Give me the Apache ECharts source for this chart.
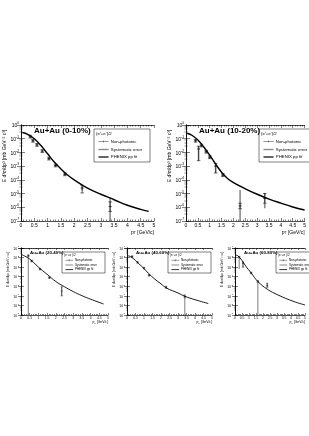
<!DOCTYPE html>
<html><head><meta charset="utf-8">
<script src="https://cdn.jsdelivr.net/npm/echarts@6/dist/echarts.min.js"></script>
<style>html,body{margin:0;padding:0;background:#fff}#c{width:309px;height:436px}</style>
</head><body><div id="c"></div>
<script>
// ---------- texts ----------
const panelTitles = ['Au+Au (0-10%)','Au+Au (10-20%)','Au+Au (20-40%)','Au+Au (40-60%)','Au+Au (60-80%)'];
const legendHeader = '(e\u207A+e\u207B)/2';
const legendLabels = ['Non-photonic','Systematic error','PHENIX pp fit'];
const xTickLabels = ['0','0.5','1','1.5','2','2.5','3','3.5','4','4.5','5'];
const yTitle = 'E d\u00B3\u03C3/dp\u00B3 [mb GeV\u207B\u00B2 c\u00B3]';
const xTitle = 'p{sub|T} [GeV/c]';

// ---------- axis ranges ----------
const xRange = [0, 5];
const yRangeTop = [1e-7, 1];
const yRangeBottom = [1e-8, 1e-1];

// ---------- 0-10% ----------
const fitPt_0010 = [0.05,0.25,0.5,0.75,1.0,1.25,1.5,1.75,2.0,2.5,3.0,3.5,4.0,4.5,4.8];
const fit_0010 = [0.282,0.209,0.1,0.0316,7.94e-3,2.0e-3,6.31e-4,2.24e-4,1.0e-4,2.51e-5,8.91e-6,3.55e-6,1.41e-6,7.08e-7,5.01e-7];
const pt_0010 = [0.35,0.45,0.6,0.8,1.05,1.3,1.65,2.3,3.35];
const y_0010 = [0.141,0.0708,0.0355,0.0126,3.55e-3,1.12e-3,2.51e-4,2.51e-5,1.12e-6];
const statLo_0010 = [0.112,0.0562,0.0282,0.01,2.82e-3,8.9e-4,2.0e-4,1.12e-5,5.0e-7];
const statHi_0010 = [0.178,0.0891,0.0447,0.0158,4.47e-3,1.41e-3,3.16e-4,3.98e-5,2.51e-6];
const sysLo_0010 = [0.112,0.0562,0.0282,0.01,2.82e-3,8.9e-4,2.0e-4,1.6e-5,1e-7];
const sysHi_0010 = [0.178,0.0891,0.0447,0.0158,4.47e-3,1.41e-3,3.16e-4,3.5e-5,5.0e-6];

// ---------- 10-20% ----------
const fitPt_1020 = [0.05,0.25,0.5,0.75,1.0,1.25,1.5,1.75,2.0,2.5,3.0,3.5,4.0,4.5,5.0];
const fit_1020 = [0.251,0.178,0.0794,0.0251,6.31e-3,1.41e-3,3.55e-4,1.26e-4,6.31e-5,2.24e-5,8.91e-6,3.98e-6,2.0e-6,1.05e-6,6.31e-7];
const pt_1020 = [0.4,0.53,0.65,0.85,1.0,1.25,1.55,2.28,3.32];
const y_1020 = [0.0708,0.0178,0.0316,0.0112,4.47e-3,1.0e-3,2.24e-4,1.26e-6,4.47e-6];
const statLo_1020 = [0.0562,2.51e-3,0.0251,8.9e-3,3.55e-3,3.16e-4,1.78e-4,7.94e-7,2.0e-6];
const statHi_1020 = [0.0891,0.0282,0.0398,0.0141,5.62e-3,1.58e-3,2.82e-4,2.0e-6,1.0e-5];
const sysLo_1020 = [0.0562,2.51e-3,0.0251,8.9e-3,3.55e-3,3.16e-4,1.78e-4,1e-7,8.5e-7];
const sysHi_1020 = [0.0891,0.0282,0.0398,0.0141,5.62e-3,1.58e-3,2.82e-4,1.82e-5,1.12e-5];

// ---------- 20-40% ----------
const fitPt_2040 = [0.05,0.5,1.0,1.5,2.0,2.5,3.0,3.5,4.0,4.75];
const fit_2040 = [0.02,7.08e-3,1.0e-3,1.78e-4,3.16e-5,8.91e-6,2.82e-6,1.05e-6,4.47e-7,1.41e-7];
const pt_2040 = [0.42,0.61,1.09,1.63,2.34];
const y_2040 = [0.0158,4.37e-3,6.31e-4,7.94e-5,3.16e-6];
const statLo_2040 = [0.0132,3.64e-3,5.26e-4,6.62e-5,1.0e-6];
const statHi_2040 = [0.019,5.24e-3,7.57e-4,9.53e-5,8.91e-6];
const sysLo_2040 = [1e-8,3.47e-3,5.0e-4,6.31e-5,1.0e-6];
const sysHi_2040 = [0.02,5.5e-3,7.94e-4,1.0e-4,8.91e-6];

// ---------- 40-60% ----------
const fitPt_4060 = [0.05,0.3,0.67,1.0,1.26,1.6,2.0,2.34,3.0,3.41,4.0,4.78];
const fit_4060 = [0.0158,0.01,2.51e-3,7.08e-4,2.29e-4,6.31e-5,1.78e-5,6.31e-6,2.0e-6,8.91e-7,3.98e-7,1.58e-7];
const pt_4060 = [0.3,0.62,1.0,1.3,2.3,3.4];
const y_4060 = [0.0126,3.16e-3,7.94e-4,1.41e-4,7.94e-6,8.91e-7];
const statLo_4060 = [0.0105,2.63e-3,6.62e-4,1.18e-4,6.31e-6,6.31e-7];
const statHi_4060 = [0.0151,3.79e-3,9.53e-4,1.69e-4,1.0e-5,1.26e-6];
const sysLo_4060 = [0.01,2.51e-3,6.31e-4,1.12e-4,6.0e-6,1e-8];
const sysHi_4060 = [0.0158,3.98e-3,1.0e-3,1.78e-4,1.05e-5,1.26e-6];

// ---------- 60-80% ----------
const fitPt_6080 = [0.05,0.19,0.5,0.77,1.15,1.63,2.3,3.06,4.21,5.0];
const fit_6080 = [0.0178,0.0158,5.01e-3,1.26e-3,2.51e-4,3.16e-5,5.01e-6,1.26e-6,2.51e-7,1.12e-7];
const pt_6080 = [0.3,0.57,1.15,1.63,2.3];
const y_6080 = [0.0112,2.51e-3,2.51e-4,3.16e-5,1.26e-5];
const statLo_6080 = [9.3e-3,1.0e-3,2.09e-4,2.63e-5,7.94e-6];
const statHi_6080 = [0.0134,3.55e-3,3.01e-4,3.79e-5,2.0e-5];
const sysLo_6080 = [6.31e-4,1.0e-3,2.0e-4,1e-8,7.5e-6];
const sysHi_6080 = [0.0141,3.55e-3,3.16e-4,3.98e-5,2.1e-5];

// ---------- build ----------
const FONT = '"Liberation Sans", Arial, sans-serif';
const panels = [
  {L:21, T:125, W:133, H:96, big:true, yr:yRangeTop, fx:fitPt_0010, fy:fit_0010, px:pt_0010, py:y_0010, sl:statLo_0010, sh:statHi_0010, yl:sysLo_0010, yh:sysHi_0010},
  {L:186, T:125, W:133, H:96, big:true, yr:yRangeTop, fx:fitPt_1020, fy:fit_1020, px:pt_1020, py:y_1020, sl:statLo_1020, sh:statHi_1020, yl:sysLo_1020, yh:sysHi_1020},
  {L:21, T:248, W:87, H:67, big:false, yr:yRangeBottom, fx:fitPt_2040, fy:fit_2040, px:pt_2040, py:y_2040, sl:statLo_2040, sh:statHi_2040, yl:sysLo_2040, yh:sysHi_2040},
  {L:127, T:248, W:85, H:67, big:false, yr:yRangeBottom, fx:fitPt_4060, fy:fit_4060, px:pt_4060, py:y_4060, sl:statLo_4060, sh:statHi_4060, yl:sysLo_4060, yh:sysHi_4060},
  {L:235, T:248, W:87, H:67, big:false, yr:yRangeBottom, fx:fitPt_6080, fy:fit_6080, px:pt_6080, py:y_6080, sl:statLo_6080, sh:statHi_6080, yl:sysLo_6080, yh:sysHi_6080}
];

function zip2(a,b){ return a.map((v,i)=>[v,b[i]]); }
function zip3(a,b,c){ return a.map((v,i)=>[v,b[i],c[i]]); }

function barRender(color, width, capHalf){
  return function(params, api){
    const x = api.value(0), lo = api.value(1), hi = api.value(2);
    const a = api.coord([x, lo]), b = api.coord([x, hi]);
    const ch = [{type:'line', shape:{x1:a[0],y1:a[1],x2:b[0],y2:b[1]}, style:{stroke:color, lineWidth:width}}];
    if (capHalf > 0) {
      ch.push({type:'line', shape:{x1:a[0]-capHalf,y1:a[1],x2:a[0]+capHalf,y2:a[1]}, style:{stroke:color, lineWidth:width}});
      ch.push({type:'line', shape:{x1:b[0]-capHalf,y1:b[1],x2:b[0]+capHalf,y2:b[1]}, style:{stroke:color, lineWidth:width}});
    }
    return {type:'group', children: ch};
  };
}

const grid=[], xAxis=[], yAxis=[], series=[], title=[], graphic=[];
panels.forEach((p,i)=>{
  const fs = p.big ? 5 : 3.4;
  const tickLen = p.big ? 3 : 2;
  grid.push({left:p.L, top:p.T, width:p.W, height:p.H, containLabel:false});
  const axLine = {show:true, lineStyle:{color:'#000', width:0.7}};
  const yMinor = {show:true, splitNumber:4, length:tickLen*0.55, lineStyle:{color:'#000', width:0.4}};
  xAxis.push({gridIndex:i, type:'value', min:xRange[0], max:xRange[1], interval:0.5, position:'bottom',
    axisLine:axLine, axisTick:{inside:true, length:tickLen, lineStyle:{color:'#000', width:0.5}},
    minorTick:{show:true, splitNumber:5, length:tickLen*0.5, lineStyle:{color:'#000', width:0.5}},
    splitLine:{show:false},
    axisLabel:{fontSize:fs, color:'#000', margin:p.big?2.5:2, fontFamily:FONT, formatter:v=>xTickLabels[Math.round(v/0.5)]},
    name:xTitle, nameLocation:'end', nameGap:0,
    nameTextStyle:{fontSize:fs, color:'#000', fontFamily:FONT, align:'right', verticalAlign:'top', padding:[p.big?9:6,0,0,0],
      rich:{sub:{fontSize:fs*0.7, verticalAlign:'bottom', fontFamily:FONT}}}
  });
  xAxis.push({gridIndex:i, type:'value', min:xRange[0], max:xRange[1], interval:0.5, position:'top',
    axisLine:axLine, axisTick:{inside:true, length:tickLen, lineStyle:{color:'#000', width:0.5}},
    minorTick:{show:true, splitNumber:5, length:tickLen*0.5, lineStyle:{color:'#000', width:0.5}},
    splitLine:{show:false}, axisLabel:{show:false}});
  yAxis.push({gridIndex:i, type:'log', logBase:10, min:p.yr[0], max:p.yr[1], position:'left',
    axisLine:axLine, axisTick:{inside:true, length:tickLen+1, lineStyle:{color:'#000', width:0.5}},
    minorTick:yMinor,
    splitLine:{show:false},
    axisLabel:{fontSize:fs, color:'#000', margin:2, fontFamily:FONT, lineHeight:fs*1.3,
      formatter:v=>'{b|10}{s|' + Math.round(Math.log10(v)) + '}',
      rich:{b:{fontSize:fs, fontFamily:FONT, color:'#000', lineHeight:fs*1.3, verticalAlign:'bottom'},
            s:{fontSize:fs*0.65, fontFamily:FONT, color:'#000', lineHeight:fs*1.3, verticalAlign:'top'}}},
    name:yTitle, nameLocation:'middle', nameGap:p.big?14:10.5,
    nameTextStyle:{fontSize:fs, color:'#000', fontFamily:FONT, padding:[0,0,0,p.big?34:24]}
  });
  yAxis.push({gridIndex:i, type:'log', logBase:10, min:p.yr[0], max:p.yr[1], position:'right',
    axisLine:axLine, axisTick:{inside:true, length:tickLen+1, lineStyle:{color:'#000', width:0.5}},
    minorTick:yMinor,
    splitLine:{show:false}, axisLabel:{show:false}});
  const xi = 2*i, yi = 2*i;
  series.push({type:'custom', name:'Systematic error', xAxisIndex:xi, yAxisIndex:yi,
    renderItem:barRender('#8a8a8a', p.big?1.6:1.1, 0), encode:{x:0,y:[1,2]}, data:zip3(p.px,p.yl,p.yh), z:2});
  series.push({type:'line', name:'PHENIX pp fit', xAxisIndex:xi, yAxisIndex:yi, smooth:0.4, showSymbol:false,
    lineStyle:{color:'#000', width:p.big?1.4:0.9}, data:zip2(p.fx,p.fy), z:3});
  series.push({type:'custom', name:'Non-photonic', xAxisIndex:xi, yAxisIndex:yi,
    renderItem:barRender('#111', p.big?0.6:0.45, p.big?1.8:1.2), encode:{x:0,y:[1,2]}, data:zip3(p.px,p.sl,p.sh), z:4});
  series.push({type:'scatter', name:'Non-photonic', xAxisIndex:xi, yAxisIndex:yi, symbol:'rect',
    symbolSize:p.big?[3,1]:[2,0.7], itemStyle:{color:'#111'}, data:zip2(p.px,p.py), z:5});

  title.push({text:panelTitles[i], left:p.L+(p.big?13:9), top:p.big?127:251,
    textStyle:{fontSize:p.big?8:4.4, fontWeight:'bold', color:'#000', fontFamily:FONT}, padding:0});

  // legend box
  const bx = p.big ? p.L+73 : p.L+41, by = p.big ? 129 : 252;
  const bw = p.big ? 56 : 43, bh = p.big ? 33 : 21;
  const lf = p.big ? 4.3 : 3;
  const rows = p.big ? [4.5,12.5,20.5,28] : [3.4,8.3,13,17.6];
  const l1 = bx + bw*0.08, l2 = bx + bw*0.26, tx = bx + bw*0.3;
  const g = [{type:'rect', shape:{x:bx,y:by,width:bw,height:bh}, style:{fill:'#fff', stroke:'#000', lineWidth:0.5}},
    {type:'text', x:bx+2, y:by+rows[0], style:{text:legendHeader, fontSize:lf, fontFamily:FONT, fill:'#000', verticalAlign:'middle'}}];
  const styles = [{stroke:'#333', lineWidth:0.5},{stroke:'#8a8a8a', lineWidth:p.big?1.4:1},{stroke:'#000', lineWidth:p.big?1.2:0.8}];
  legendLabels.forEach((lab,k)=>{
    const yy = by+rows[k+1];
    g.push({type:'line', shape:{x1:l1,y1:yy,x2:l2,y2:yy}, style:styles[k]});
    if (k===0) g.push({type:'line', shape:{x1:(l1+l2)/2,y1:yy-1,x2:(l1+l2)/2,y2:yy+1}, style:styles[0]});
    g.push({type:'text', x:tx, y:yy, style:{text:lab, fontSize:lf, fontFamily:FONT, fill:'#000', verticalAlign:'middle'}});
  });
  graphic.push({type:'group', children:g, z:10});
});

const chart = echarts.init(document.getElementById('c'), null, {renderer:'canvas'});
chart.setOption({animation:false, backgroundColor:'#fff', grid, xAxis, yAxis, series, title, graphic});
</script></body></html>
